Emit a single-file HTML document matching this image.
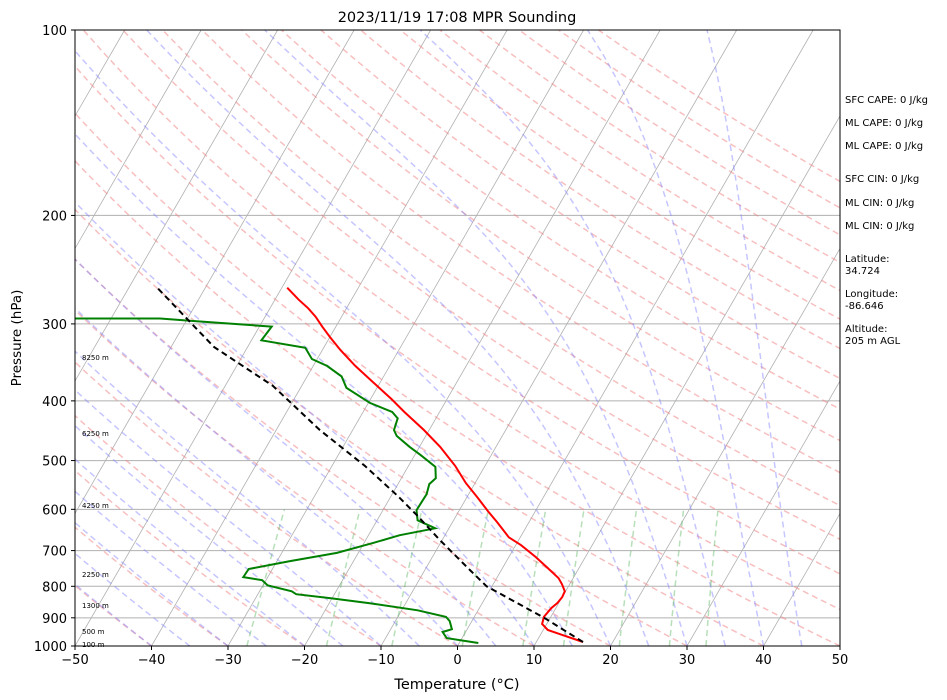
<!DOCTYPE html>
<html><head><meta charset="utf-8"><title>2023/11/19 17:08 MPR Sounding</title>
<style>
html,body{margin:0;padding:0;background:#fff;}
svg{display:block;font-family:"DejaVu Sans","Liberation Sans",sans-serif;}
</style></head>
<body>
<svg id="chart" width="947" height="700" viewBox="0 0 947 700" xmlns="http://www.w3.org/2000/svg">
<defs><clipPath id="plotclip"><rect x="75" y="30" width="765" height="616"/></clipPath></defs>
<rect x="0" y="0" width="947" height="700" fill="#fff"/>
<text x="457" y="22" text-anchor="middle" font-size="14.5">2023/11/19 17:08 MPR Sounding</text>
<g id="bg" clip-path="url(#plotclip)"></g>
<g id="series" clip-path="url(#plotclip)"></g>
<rect x="75" y="30" width="765" height="616" fill="none" stroke="#000" stroke-width="1"/>
<g id="axes"></g>
<text x="457" y="689" text-anchor="middle" font-size="14.5">Temperature (°C)</text>
<text transform="translate(21,338) rotate(-90)" text-anchor="middle" font-size="13.5">Pressure (hPa)</text>
<g font-size="10">
<text x="845" y="103">SFC CAPE: 0 J/kg</text>
<text x="845" y="126">ML CAPE: 0 J/kg</text>
<text x="845" y="149">ML CAPE: 0 J/kg</text>
<text x="845" y="182">SFC CIN: 0 J/kg</text>
<text x="845" y="206">ML CIN: 0 J/kg</text>
<text x="845" y="229">ML CIN: 0 J/kg</text>
<text x="845" y="262">Latitude:</text>
<text x="845" y="274">34.724</text>
<text x="845" y="297">Longitude:</text>
<text x="845" y="309">-86.646</text>
<text x="845" y="332">Altitude:</text>
<text x="845" y="344">205 m AGL</text>
</g>
<g font-size="7">
<text x="82" y="360">8250 m</text>
<text x="82" y="436">6250 m</text>
<text x="82" y="508">4250 m</text>
<text x="82" y="577">2250 m</text>
<text x="82" y="608">1300 m</text>
<text x="82" y="634">500 m</text>
<text x="82" y="647">100 m</text>
</g>
</svg>
<script>
const tempPressure = [985,963,942,921,897,868,852,833,815,794,776,747,717,686,666,629,604,575,544,510,475,446,417,397,376,351,331,315,303,292,283,274,262];
const tempValues = [16.1,13.3,10.6,9.4,9.1,9.4,9.8,10.0,9.9,9.0,8.1,5.9,3.5,0.7,-1.5,-4.2,-6.2,-8.5,-11.2,-13.9,-17.3,-20.7,-24.6,-27.3,-30.5,-34.5,-37.6,-40.0,-41.8,-43.4,-45.0,-46.9,-49.3];
const dewPressure = [989,971,949,939,911,897,875,852,836,824,815,797,782,773,750,728,706,681,661,644,625,602,567,546,534,512,490,475,456,446,427,417,403,381,365,351,342,328,319,303,297,294,294];
const dewValues = [2.5,-2.0,-3.0,-2.0,-2.9,-3.7,-7.9,-14.7,-20.3,-25.0,-25.8,-29.4,-30.5,-33.2,-33.1,-28.3,-22.8,-18.9,-15.9,-11.8,-14.7,-15.6,-15.5,-15.9,-15.5,-16.4,-19.2,-21.3,-23.8,-24.6,-25.0,-26.2,-29.8,-34.0,-35.5,-38.2,-40.7,-42.4,-48.7,-48.4,-58.6,-63.6,-74.7];
const parcelPressure = [985,901,800,753,673,613,571,510,446,378,327,262];
const parcelValues = [16.1,9.3,-0.7,-4.1,-10.3,-15.2,-19.1,-25.7,-34.3,-43.8,-54.4,-66.3];
const xTicks = [-50,-40,-30,-20,-10,0,10,20,30,40,50];
const pTicks = [100,200,300,400,500,600,700,800,900,1000];

const NS = "http://www.w3.org/2000/svg";
const X0 = 75, X1 = 840, Y0 = 30, Y1 = 646;
const TMIN = -50, TMAX = 50, SKEW = Math.tan(30*Math.PI/180);
function yP(p){ return Y0 + (Y1-Y0)*Math.log10(p/100); }
function xT(t,p){ return X0 + (t-TMIN)*(X1-X0)/(TMAX-TMIN) + SKEW*(Y1 - yP(p)); }
function mk(tag, attrs, parent){ const e = document.createElementNS(NS, tag); for (const k in attrs) e.setAttribute(k, attrs[k]); parent.appendChild(e); return e; }
function pathFrom(ps, ts){ return ps.map((p,i)=>(i?'L':'M')+xT(ts[i],p).toFixed(1)+','+yP(p).toFixed(1)).join(''); }

const bg = document.getElementById('bg');
const series = document.getElementById('series');
const axes = document.getElementById('axes');

// pressure grid lines
for (const p of pTicks){
  const l = mk('line',{x1:X0,x2:X1,y1:yP(p),y2:yP(p),stroke:'#b0b0b0','stroke-width':1},bg);
  
  
}
// isotherms
for (let t=-160; t<=50; t+=10){
  const l = mk('line',{x1:xT(t,1000),y1:yP(1000),x2:xT(t,100),y2:yP(100),stroke:'#b0b0b0','stroke-width':0.8},bg);
  
  
}
const levels = []; for (let p=1000; p>=100; p-=10) levels.push(p);
// dry adiabats
for (let t0=-50; t0<=200; t0+=10){
  const th = t0+273.15;
  const ts = levels.map(p=>th*Math.pow(p/1000,0.2857)-273.15);
  const e = mk('path',{d:pathFrom(levels,ts),fill:'none',stroke:'#f08080','stroke-opacity':0.5,'stroke-width':1.5,'stroke-dasharray':'6,4'},bg);
  
  
}
// moist adiabats
function es(tc){ return 6.112*Math.exp(17.67*tc/(tc+243.5)); }
for (let t0=-40; t0<=45; t0+=5){
  let T = t0+273.15; const ps=[1000], ts=[t0];
  for (let p=1000; p>100; p-=2){
    const rs = 0.622*es(T-273.15)/(p-es(T-273.15));
    const Lv=2.501e6, Rd=287.04, Cp=1005.7;
    const dTdp = (Rd*T + Lv*rs)/(Cp + Lv*Lv*rs*0.622/(Rd*T*T))/p;
    T -= dTdp*2;
    if ((p-2)%10===0){ ps.push(p-2); ts.push(T-273.15); }
  }
  const e = mk('path',{d:pathFrom(ps,ts),fill:'none',stroke:'#8080ff','stroke-opacity':0.45,'stroke-width':1.5,'stroke-dasharray':'6,4'},bg);
  
  
}
// mixing ratio lines
for (const w of [0.0004,0.001,0.002,0.004,0.007,0.01,0.016,0.024,0.032]){
  const ps = [], ts = [];
  for (let p=1000; p>=600; p-=20){
    const e = p*w/(0.622+w), a = Math.log(e/6.112);
    ps.push(p); ts.push(243.5*a/(17.67-a));
  }
  const e = mk('path',{d:pathFrom(ps,ts),fill:'none',stroke:'#4caf50','stroke-opacity':0.4,'stroke-width':1.5,'stroke-dasharray':'6,4'},bg);
  
  
}
// series
const tl = mk('path',{d:pathFrom(tempPressure,tempValues),fill:'none',stroke:'#ff0000','stroke-width':2},series);


const dl = mk('path',{d:pathFrom(dewPressure,dewValues),fill:'none',stroke:'#008000','stroke-width':2},series);


const pl = mk('path',{d:pathFrom(parcelPressure,parcelValues),fill:'none',stroke:'#000','stroke-width':2,'stroke-dasharray':'6,4'},series);


// axes ticks
for (const t of xTicks){
  const x = xT(t,1000);
  const tk = mk('line',{x1:x,x2:x,y1:Y1,y2:Y1+4,stroke:'#000'},axes);
  
  
  const lb = mk('text',{x:x,y:Y1+18,'text-anchor':'middle','font-size':13},axes);
  lb.textContent = t < 0 ? '\u2212'+Math.abs(t) : String(t);
  
  
}
for (const p of pTicks){
  const y = yP(p);
  const tk = mk('line',{x1:X0-4,x2:X0,y1:y,y2:y,stroke:'#000'},axes);
  
  
  const lb = mk('text',{x:X0-8,y:y+5,'text-anchor':'end','font-size':13},axes);
  lb.textContent = String(p);
  
  
}
</script>
</body></html>
